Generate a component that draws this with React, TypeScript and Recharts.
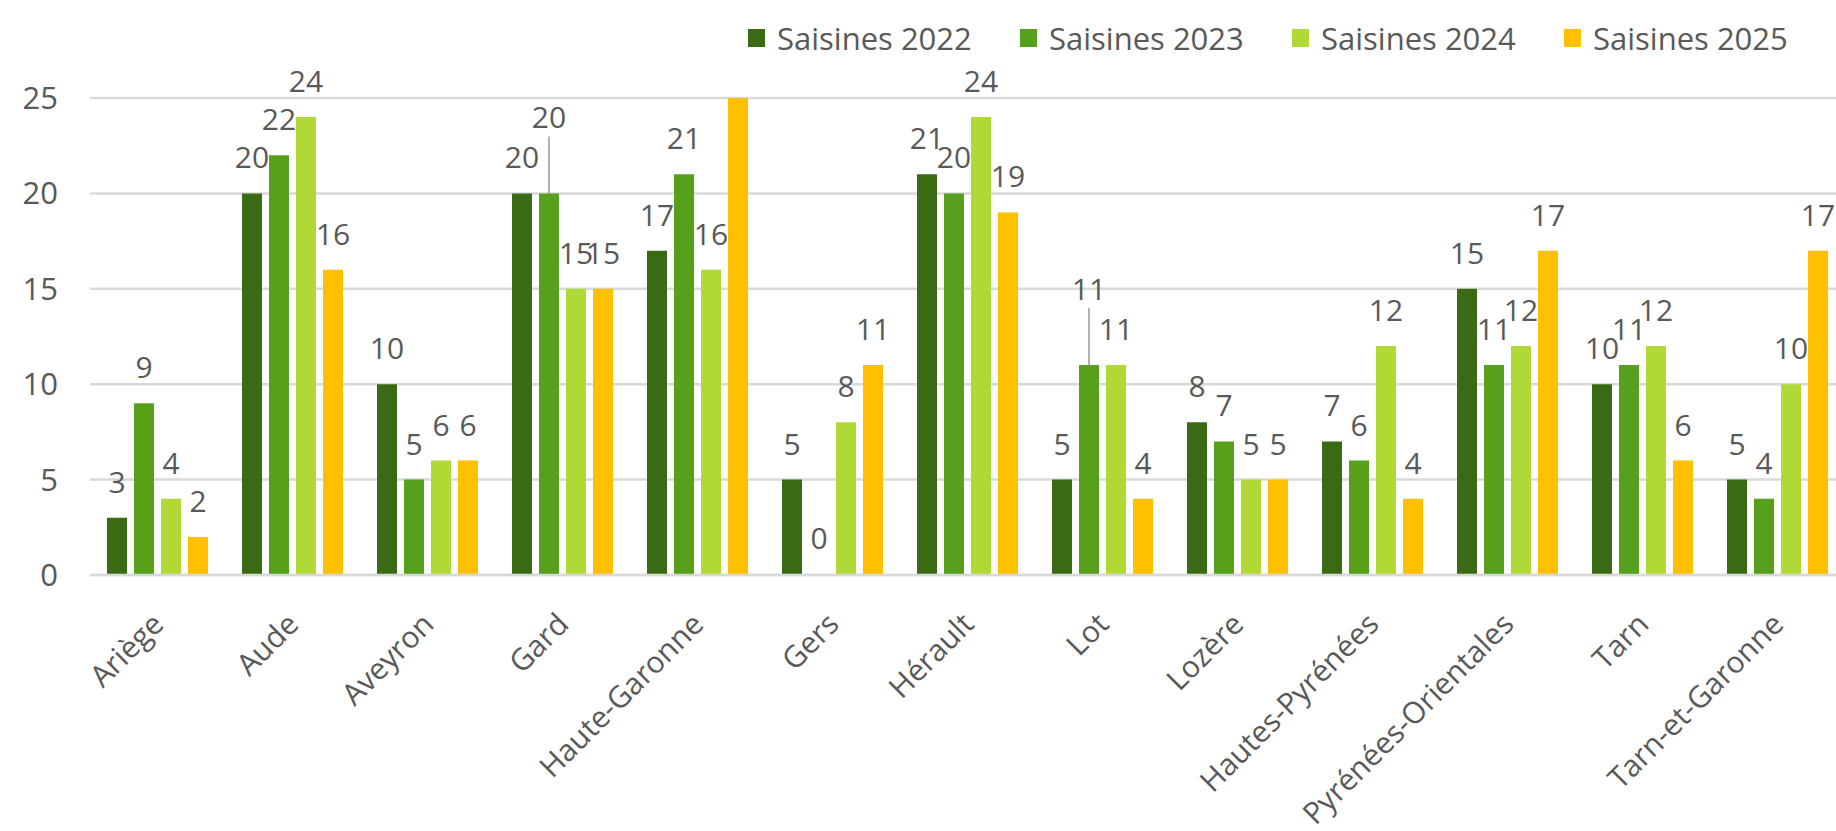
import React from "react";
import { BarChart, Bar, XAxis, YAxis, CartesianGrid, Legend, LabelList } from "recharts";

const categories = [
  "Ariège", "Aude", "Aveyron", "Gard", "Haute-Garonne", "Gers", "Hérault",
  "Lot", "Lozère", "Hautes-Pyrénées", "Pyrénées-Orientales", "Tarn", "Tarn-et-Garonne",
];
const saisines2022 = [3, 20, 10, 20, 17, 5, 21, 5, 8, 7, 15, 10, 5];
const saisines2023 = [9, 22, 5, 20, 21, 0, 20, 11, 7, 6, 11, 11, 4];
const saisines2024 = [4, 24, 6, 15, 16, 8, 24, 11, 5, 12, 12, 12, 10];
const saisines2025 = [2, 16, 6, 15, 26, 11, 19, 4, 5, 4, 17, 6, 17];
const yTicks = [0, 5, 10, 15, 20, 25];
const yMax = 25;

const series = [
  { key: "s2022", name: "Saisines 2022", color: "#3b6a14" },
  { key: "s2023", name: "Saisines 2023", color: "#56a01c" },
  { key: "s2024", name: "Saisines 2024", color: "#b0d936" },
  { key: "s2025", name: "Saisines 2025", color: "#ffc000" },
];

const data = categories.map((c, i) => ({
  name: c,
  s2022: saisines2022[i],
  s2023: saisines2023[i],
  s2024: saisines2024[i],
  s2025: saisines2025[i],
}));

const FONT = "'Open Sans', sans-serif";
const GRAY = "#595959";

// A 2023 label equal to a neighbouring bar's value is lifted, with a leader line (as the original's label layout does)
const isLifted = (index: number) =>
  saisines2023[index] === saisines2022[index] || saisines2023[index] === saisines2024[index];

const makeLabel = (seriesKey: string) => (props: any) => {
  const { x, y, width, value, index } = props;
  if (value > yMax) return null;
  const cx = x + width / 2;
  const lifted = seriesKey === "s2023" && isLifted(index);
  const lift = lifted ? 40 : 0;
  return (
    <g>
      {lifted && (
        <line x1={cx} x2={cx} y1={y - 25 - lift + 8} y2={y} stroke="#7f7f7f" strokeWidth={1.2} />
      )}
      <text x={cx} y={y - 25 - lift} textAnchor="middle" fontFamily={FONT} fontSize={30} fill={GRAY}>
        {value}
      </text>
    </g>
  );
};

const XTick = (props: any) => {
  const { x, y, payload } = props;
  const ax = x + 8;
  const ay = y + 51;
  return (
    <text
      x={ax}
      y={ay}
      textAnchor="end"
      transform={`rotate(-45 ${ax} ${ay})`}
      fontFamily={FONT}
      fontSize={30}
      fill={GRAY}
    >
      {payload.value}
    </text>
  );
};

const LegendContent = () => (
  <div style={{ display: "flex", paddingLeft: 748, height: 76, alignItems: "center", fontFamily: FONT }}>
    {series.map((s) => (
      <div key={s.key} style={{ display: "flex", alignItems: "center", width: 288 }}>
        <div style={{ width: 17, height: 18, background: s.color, marginRight: 12 }} />
        <span style={{ fontSize: 31, color: GRAY, lineHeight: 1, whiteSpace: "nowrap" }}>{s.name}</span>
      </div>
    ))}
  </div>
);

export default function App() {
  return (
    <div style={{ position: "absolute", left: 0, top: 0, width: 1836, height: 831, overflow: "hidden", background: "#fff" }}>
      <BarChart
        width={1860}
        height={831}
        data={data}
        margin={{ top: 22, right: 15, bottom: 0, left: 0 }}
        barSize={20}
        barGap={7}
      >
        <CartesianGrid vertical={false} stroke="#d9d9d9" strokeWidth={2.5} />
        <XAxis
          dataKey="name"
          interval={0}
          height={256}
          tickSize={0}
          tickMargin={0}
          tickLine={false}
          axisLine={{ stroke: "#d9d9d9", strokeWidth: 2.5 }}
          tick={<XTick />}
        />
        <YAxis
          width={90}
          domain={[0, yMax]}
          ticks={yTicks}
          allowDataOverflow
          axisLine={false}
          tickLine={false}
          tickSize={0}
          tickMargin={32}
          tick={{ fontFamily: FONT, fontSize: 31, fill: GRAY }}
        />
        <Legend verticalAlign="top" wrapperStyle={{ top: 0, left: 0, width: 1836 }} content={<LegendContent />} />
        {series.map((s) => (
          <Bar key={s.key} dataKey={s.key} name={s.name} fill={s.color} minPointSize={1} isAnimationActive={false}>
            <LabelList dataKey={s.key} content={makeLabel(s.key)} />
          </Bar>
        ))}
      </BarChart>
    </div>
  );
}
